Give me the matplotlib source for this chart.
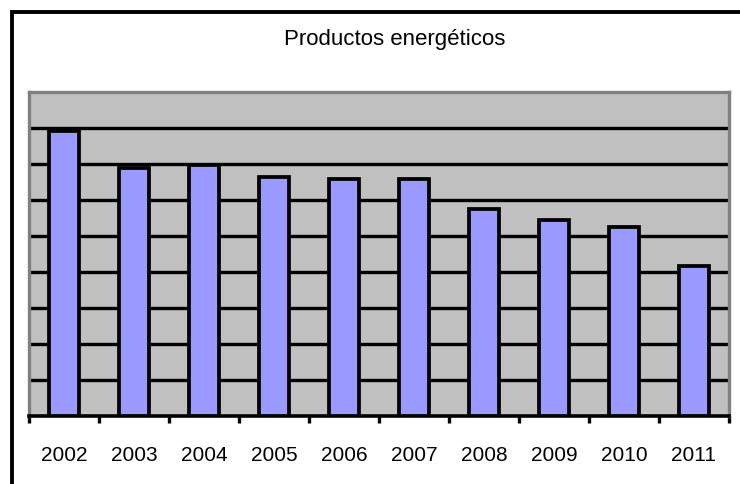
import matplotlib
matplotlib.use('Agg')
from matplotlib import pyplot as plt
from matplotlib.patches import Rectangle

# annual index values, one bar per year
years = ['2002', '2003', '2004', '2005', '2006', '2007', '2008', '2009', '2010', '2011']
values = [7.92, 6.87, 6.96, 6.63, 6.58, 6.57, 5.75, 5.45, 5.24, 4.17]
grid_levels = [1, 2, 3, 4, 5, 6, 7, 8]
title = 'Productos energéticos'

plt.rcParams['font.family'] = ['Liberation Sans', 'DejaVu Sans']

fig = plt.figure(figsize=(7.4, 4.85), dpi=100, facecolor='w')
ax = fig.add_axes([0.0396, 0.1408, 0.9455, 0.668])
ax.set_facecolor('#c0c0c0')

x = list(range(len(years)))
ax.bar(x, values, width=0.43, color='#9999ff', edgecolor='black', linewidth=2.7, zorder=3)

ax.set_xlim(-0.5, len(years) - 0.5)
ax.set_ylim(0, 9)

# horizontal gridlines, no value labels
ax.set_yticks(grid_levels)
ax.yaxis.grid(True, color='black', linewidth=2.4)
ax.set_axisbelow(True)
ax.tick_params(axis='y', left=False, labelleft=False)

# ticks between categories, labels centred under bars
ax.set_xticks([i - 0.5 for i in range(len(years) + 1)])
ax.set_xticklabels([])
ax.tick_params(axis='x', which='major', direction='out', length=5, width=2.4, color='black')
ax.set_xticks(x, minor=True)
ax.set_xticklabels(years, minor=True, fontsize=15)
ax.tick_params(axis='x', which='minor', length=0, pad=21)

for side in ['left', 'top', 'right']:
    ax.spines[side].set_color('#808080')
    ax.spines[side].set_linewidth(2.4)
ax.spines['bottom'].set_color('black')
ax.spines['bottom'].set_linewidth(2.6)

fig.text(0.534, 0.918, title, ha='center', va='center', fontsize=16)

# chart frame, running off the right and bottom edges
fig.add_artist(Rectangle((12 / 740, -0.2), 1.5, 1.2 - 13 / 485, transform=fig.transFigure,
                         fill=False, edgecolor='black', linewidth=2.8))

plt.savefig('out.png', dpi=100)
